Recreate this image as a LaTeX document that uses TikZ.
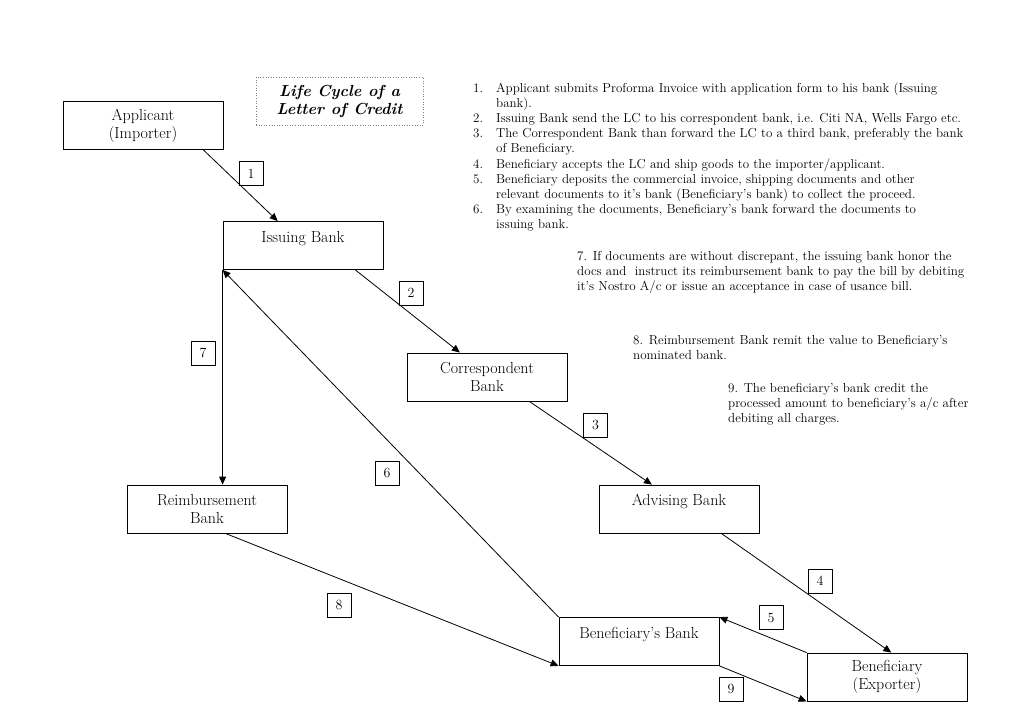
\documentclass[tikz,border=0pt]{standalone}
\usepackage{fontspec}
\usetikzlibrary{arrows.meta}

\begin{document}
\begin{tikzpicture}[x=1pt, y=-1pt,
    bank/.style={rectangle, draw, line width=0.8pt, minimum width=160pt,
                 minimum height=48pt, inner sep=2pt, align=center,
                 font=\fontsize{16}{18}\selectfont},
    num/.style={rectangle, draw, line width=0.8pt, minimum size=24pt,
                inner sep=0pt, font=\fontsize{14}{14}\selectfont},
    arr/.style={-{Triangle[length=8pt, width=7pt]}, line width=0.8pt},
    note/.style={anchor=north west, inner sep=0pt,
                 font=\fontsize{13}{15.1}\selectfont}
  ]
  \useasboundingbox (0,0) rectangle (1009,723);

  % title
  \node[draw=gray, dotted, line width=0.6pt, minimum width=167pt,
        minimum height=48pt, align=center,
        font=\fontsize{16}{18}\selectfont\bfseries\itshape]
        (title) at (339.5,101) {Life Cycle of a\\Letter of Credit};

  % parties
  \node[bank] (app)  at (143,125.5) {Applicant\\(Importer)};
  \node[bank] (iss)  at (303,245.5) {Issuing Bank\\ \mbox{}};
  \node[bank] (cor)  at (487,377)   {Correspondent\\Bank};
  \node[bank] (adv)  at (679,509)   {Advising Bank\\ \mbox{}};
  \node[bank] (reim) at (207,509)   {Reimbursement\\Bank};
  \node[bank] (benb) at (639,641.5) {Beneficiary’s Bank\\ \mbox{}};
  \node[bank] (ben)  at (887,677)   {Beneficiary\\(Exporter)};

  % flows
  \draw[arr] (app.-22.4) -- (iss.136.2);
  \draw[arr] (iss.-25.6) -- (cor.138.4);
  \draw[arr] (cor.-30.3) -- (adv.138.4);
  \draw[arr] (adv.-30.3) -- (ben.80.5);
  \draw[arr] (ben.north west) -- (benb.north east);
  \draw[arr] (benb.north west) -- (iss.south west);
  \draw[arr] (iss.south west) -- (iss.south west |- reim.north);
  \draw[arr] (reim.-53.1) -- (benb.south west);
  \draw[arr] (benb.south east) -- (ben.south west);

  % step numbers
  \node[num] (n1) at (251,173.5) {1};
  \node[num] (n2) at (411,293)   {2};
  \node[num] (n3) at (595.5,425) {3};
  \node[num] (n4) at (820,581)   {4};
  \node[num] (n5) at (771,617.5) {5};
  \node[num] (n6) at (387,473)   {6};
  \node[num] (n7) at (203,353)   {7};
  \node[num] (n8) at (339,605)   {8};
  \node[num] (n9) at (731,689)   {9};

  % explanations
  \node[note] (steps) at (473,81.8) {\begin{tabular}[t]{@{}p{23pt}@{}l@{}}
    1. & Applicant submits Proforma Invoice with application form to his bank (Issuing\\
       & bank).\\
    2. & Issuing Bank send the LC to his correspondent bank, i.e. Citi NA, Wells Fargo etc.\\
    3. & The Correspondent Bank than forward the LC to a third bank, preferably the bank\\
       & of Beneficiary.\\
    4. & Beneficiary accepts the LC and ship goods to the importer/applicant.\\
    5. & Beneficiary deposits the commercial invoice, shipping documents and other\\
       & relevant documents to it’s bank (Beneficiary’s bank) to collect the proceed.\\
    6. & By examining the documents, Beneficiary’s bank forward the documents to\\
       & issuing bank.
  \end{tabular}};
  \node[note] (note7) at (577,249.4) {\begin{tabular}[t]{@{}l@{}}
    7. If documents are without discrepant, the issuing bank honor the\\
    docs and \ instruct its reimbursement bank to pay the bill by debiting\\
    it’s Nostro A/c or issue an acceptance in case of usance bill.
  \end{tabular}};
  \node[note] (note8) at (633,333.4) {\begin{tabular}[t]{@{}l@{}}
    8. Reimbursement Bank remit the value to Beneficiary’s\\
    nominated bank.
  \end{tabular}};
  \node[note] (note9) at (728,381.4) {\begin{tabular}[t]{@{}l@{}}
    9. The beneficiary’s bank credit the\\
    processed amount to beneficiary’s a/c after\\
    debiting all charges.
  \end{tabular}};
\end{tikzpicture}
\end{document}
